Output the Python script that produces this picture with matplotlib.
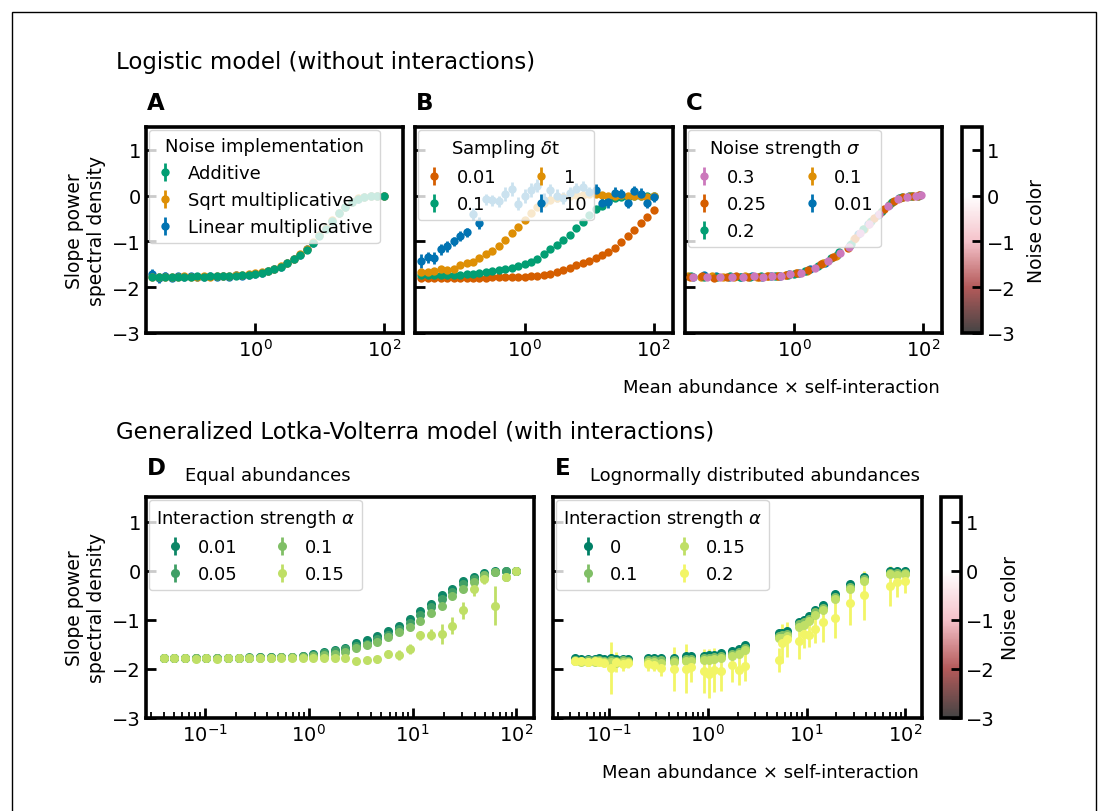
import numpy as np
import matplotlib
matplotlib.use('Agg')
import matplotlib.pyplot as plt
import matplotlib.ticker as mticker
from matplotlib.colors import LinearSegmentedColormap, Normalize
from matplotlib.cm import ScalarMappable
from matplotlib.patches import Rectangle

# ---------------- data ----------------
# log10 of x (mean abundance x self-interaction) for panels A-C
logx_abc = [-1.6, -1.5, -1.4, -1.3, -1.2, -1.1, -1.0, -0.9, -0.8, -0.7, -0.6, -0.5,
            -0.4, -0.3, -0.2, -0.1, 0.0, 0.1, 0.2, 0.3, 0.4, 0.5, 0.6, 0.7, 0.8, 0.9,
            1.0, 1.1, 1.2, 1.3, 1.4, 1.5, 1.6, 1.7, 1.8, 1.9, 2.0]

# A: noise implementation
a_additive = [-1.77, -1.78, -1.77, -1.78, -1.77, -1.77, -1.77, -1.76, -1.77, -1.76, -1.76, -1.76,
              -1.75, -1.75, -1.74, -1.73, -1.71, -1.68, -1.65, -1.61, -1.55, -1.48, -1.39, -1.29,
              -1.18, -1.03, -0.88, -0.72, -0.55, -0.38, -0.25, -0.14, -0.07, -0.03, -0.01, 0.0, 0.0]
a_sqrt = [-1.78, -1.77, -1.78, -1.77, -1.78, -1.76, -1.77, -1.77, -1.76, -1.77, -1.76, -1.75,
          -1.76, -1.74, -1.74, -1.72, -1.70, -1.67, -1.64, -1.60, -1.54, -1.47, -1.38, -1.28,
          -1.16, -1.02, -0.86, -0.70, -0.54, -0.37, -0.24, -0.13, -0.06, -0.02, 0.0, 0.0, 0.0]
a_linear = [-1.72, -1.80, -1.75, -1.79, -1.76, -1.78, -1.75, -1.77, -1.78, -1.76, -1.77, -1.75,
            -1.77, -1.74, -1.76, -1.74, -1.71, -1.68, -1.65, -1.60, -1.55, -1.48, -1.39, -1.29,
            -1.17, -1.03, -0.87, -0.71, -0.55, -0.38, -0.25, -0.14, -0.07, -0.03, -0.01, 0.0, 0.0]
a_linear_err = [0.12, 0.10, 0.08, 0.07, 0.06, 0.05, 0.05, 0.04, 0.04, 0.04, 0.03, 0.03,
                0.03, 0.03, 0.03, 0.03, 0.03, 0.02, 0.02, 0.02, 0.02, 0.02, 0.02, 0.02,
                0.02, 0.02, 0.02, 0.02, 0.02, 0.02, 0.02, 0.02, 0.02, 0.02, 0.02, 0.02, 0.02]

# B: sampling dt
b_001 = [-1.79, -1.79, -1.80, -1.79, -1.79, -1.79, -1.80, -1.79, -1.79, -1.79, -1.79, -1.78,
         -1.78, -1.78, -1.78, -1.77, -1.77, -1.76, -1.75, -1.73, -1.71, -1.67, -1.63, -1.58,
         -1.52, -1.47, -1.43, -1.37, -1.30, -1.23, -1.14, -1.02, -0.88, -0.74, -0.60, -0.47, -0.31]
b_01 = [-1.74, -1.74, -1.74, -1.74, -1.74, -1.73, -1.73, -1.72, -1.71, -1.69, -1.67, -1.65,
        -1.62, -1.60, -1.57, -1.54, -1.50, -1.45, -1.38, -1.27, -1.17, -1.08, -0.97, -0.85,
        -0.71, -0.57, -0.43, -0.30, -0.22, -0.12, -0.06, -0.03, -0.02, -0.01, 0.0, 0.0, 0.0]
b_1 = [-1.67, -1.66, -1.65, -1.60, -1.63, -1.60, -1.52, -1.47, -1.44, -1.36, -1.28, -1.21,
       -1.10, -0.96, -0.81, -0.68, -0.54, -0.38, -0.25, -0.16, -0.09, -0.05, -0.02, 0.0,
       0.01, 0.02, 0.03, 0.04, 0.02, 0.0, 0.0, 0.01, 0.0, -0.01, 0.0, -0.02, -0.01]
b_10 = [-1.43, -1.34, -1.37, -1.17, -1.10, -1.00, -0.88, -0.80, -0.40, -0.60, -0.08, -0.10,
        -0.12, 0.03, 0.14, -0.18, 0.00, 0.12, 0.22, -0.10, 0.12, 0.0, -0.05, 0.05,
        0.15, 0.19, 0.08, 0.13, -0.17, -0.14, 0.06, 0.03, -0.15, 0.10, 0.04, -0.15, -0.04]
b_10_err = [0.15, 0.12, 0.13, 0.12, 0.12, 0.10, 0.10, 0.10, 0.13, 0.13, 0.12, 0.12,
            0.12, 0.15, 0.15, 0.14, 0.15, 0.15, 0.15, 0.15, 0.14, 0.14, 0.13, 0.13,
            0.13, 0.13, 0.12, 0.12, 0.12, 0.12, 0.12, 0.12, 0.12, 0.12, 0.12, 0.12, 0.10]

# C: noise strength sigma (log10 x, slope)
c_03_logx = [-1.57, -1.36, -1.16, -0.97, -0.80, -0.63, -0.48, -0.34, -0.20, -0.06, 0.10, 0.33,
             0.53, 0.71, 0.85, 1.03, 1.16, 1.32, 1.46, 1.62, 1.76, 1.90, 1.97]
c_03 = [-1.78, -1.77, -1.78, -1.77, -1.77, -1.76, -1.77, -1.76, -1.75, -1.72, -1.68, -1.57,
        -1.42, -1.26, -1.13, -0.82, -0.62, -0.40, -0.23, -0.07, -0.02, 0.0, 0.01]
c_025_logx = [-1.62, -1.43, -1.25, -1.05, -0.90, -0.72, -0.55, -0.40, -0.25, -0.12, 0.05, 0.22,
              0.42, 0.60, 0.84, 0.95, 1.25, 1.40, 1.55, 1.70, 1.85, 1.95]
c_025 = [-1.77, -1.76, -1.79, -1.77, -1.76, -1.78, -1.77, -1.76, -1.75, -1.73, -1.69, -1.62,
         -1.50, -1.35, -1.14, -0.93, -0.48, -0.30, -0.12, -0.03, 0.0, 0.01]
c_02_logx = [-1.60, -1.40, -1.20, -1.00, -0.85, -0.68, -0.52, -0.30, -0.10, 0.00, 0.17, 0.37,
             0.58, 0.70, 0.88, 1.07, 1.20, 1.37, 1.52, 1.68, 1.83, 1.96]
c_02 = [-1.76, -1.77, -1.77, -1.76, -1.78, -1.77, -1.76, -1.76, -1.73, -1.71, -1.65, -1.54,
        -1.37, -1.22, -1.05, -0.73, -0.56, -0.33, -0.14, -0.04, 0.0, 0.01]
c_01_logx = [-1.65, -1.45, -1.28, -1.10, -0.93, -0.76, -0.58, -0.43, -0.27, -0.13, 0.03, 0.20,
             0.45, 0.65, 0.93, 1.08, 1.18, 1.35, 1.50, 1.65, 1.80, 1.93]
c_01 = [-1.76, -1.77, -1.76, -1.78, -1.77, -1.76, -1.77, -1.76, -1.75, -1.74, -1.70, -1.65,
        -1.48, -1.31, -0.95, -0.72, -0.58, -0.35, -0.17, -0.05, -0.01, 0.0]
c_001_logx = [-1.58, -1.40, -1.22, -1.02, -0.82, -0.66, -0.50, -0.36, -0.22, -0.08, 0.07, 0.25,
              0.48, 0.66, 0.87, 1.00, 1.15, 1.30, 1.48, 1.63, 1.78, 1.92]
c_001 = [-1.78, -1.74, -1.76, -1.77, -1.78, -1.76, -1.77, -1.76, -1.75, -1.72, -1.68, -1.61,
         -1.46, -1.30, -1.08, -0.83, -0.62, -0.42, -0.20, -0.06, -0.01, 0.0]

# D: equal abundances, interaction strength alpha
logx_d = [-1.398, -1.295, -1.192, -1.089, -0.986, -0.883, -0.780, -0.677, -0.574, -0.471,
          -0.368, -0.265, -0.162, -0.059, 0.044, 0.147, 0.250, 0.353, 0.456, 0.559, 0.662,
          0.765, 0.868, 0.971, 1.074, 1.177, 1.280, 1.383, 1.486, 1.589, 1.692, 1.795, 1.898, 2.0]
d_001 = [-1.77, -1.78, -1.78, -1.77, -1.78, -1.78, -1.77, -1.77, -1.77, -1.76, -1.76, -1.76,
         -1.75, -1.73, -1.69, -1.66, -1.61, -1.57, -1.48, -1.42, -1.33, -1.22, -1.12, -0.98,
         -0.83, -0.67, -0.50, -0.37, -0.22, -0.12, -0.05, -0.01, 0.0, 0.0]
d_005 = [-1.77, -1.78, -1.77, -1.77, -1.78, -1.77, -1.77, -1.77, -1.76, -1.76, -1.76, -1.75,
         -1.75, -1.74, -1.71, -1.68, -1.64, -1.60, -1.54, -1.49, -1.40, -1.30, -1.19, -1.06,
         -0.90, -0.74, -0.57, -0.43, -0.28, -0.17, -0.08, -0.03, -0.01, 0.0]
d_01 = [-1.77, -1.77, -1.78, -1.77, -1.77, -1.78, -1.77, -1.77, -1.77, -1.77, -1.77, -1.76,
        -1.76, -1.75, -1.73, -1.72, -1.69, -1.66, -1.58, -1.52, -1.45, -1.35, -1.25, -1.15,
        -1.02, -0.86, -0.71, -0.52, -0.38, -0.24, -0.08, -0.03, -0.12, 0.0]
d_015 = [-1.77, -1.78, -1.78, -1.79, -1.78, -1.79, -1.78, -1.78, -1.78, -1.78, -1.78, -1.78,
         -1.78, -1.77, -1.78, -1.78, -1.78, -1.78, -1.83, -1.81, -1.80, -1.70, -1.71, -1.59,
         -1.32, -1.30, -1.29, -1.12, -0.81, -0.37, -0.16, -0.71, -0.12, 0.0]
d_015_err = [0.03, 0.03, 0.03, 0.03, 0.03, 0.03, 0.03, 0.03, 0.03, 0.03, 0.03, 0.03,
             0.03, 0.03, 0.03, 0.03, 0.03, 0.03, 0.04, 0.05, 0.07, 0.08, 0.10, 0.10,
             0.10, 0.12, 0.20, 0.17, 0.18, 0.15, 0.12, 0.40, 0.07, 0.03]

# E: lognormally distributed abundances
logx_e = [-1.350, -1.283, -1.215, -1.148, -1.098, -1.047, -0.980, -0.929, -0.862, -0.811,
          -0.609, -0.542, -0.475, -0.340, -0.222, -0.172, -0.037, 0.013, 0.064, 0.131,
          0.249, 0.316, 0.374, 0.721, 0.754, 0.798, 0.923, 0.973, 1.024, 1.091, 1.168,
          1.293, 1.444, 1.586, 1.842, 1.916, 2.000]
e_0 = [-1.78, -1.80, -1.79, -1.79, -1.78, -1.79, -1.78, -1.79, -1.79, -1.80, -1.77, -1.77,
       -1.78, -1.77, -1.74, -1.74, -1.73, -1.72, -1.72, -1.68, -1.64, -1.60, -1.52, -1.27,
       -1.26, -1.23, -1.04, -1.00, -0.93, -0.80, -0.70, -0.48, -0.28, -0.12, -0.01, -0.01, -0.01]
e_01 = [-1.81, -1.83, -1.82, -1.82, -1.81, -1.83, -1.82, -1.83, -1.82, -1.83, -1.81, -1.82,
        -1.82, -1.82, -1.79, -1.80, -1.78, -1.77, -1.76, -1.73, -1.69, -1.65, -1.57, -1.33,
        -1.32, -1.28, -1.09, -1.05, -0.98, -0.85, -0.75, -0.53, -0.33, -0.17, -0.04, -0.05, -0.04]
e_015 = [-1.84, -1.86, -1.85, -1.85, -1.84, -1.86, -1.86, -1.87, -1.85, -1.86, -1.85, -1.86,
         -1.87, -1.86, -1.83, -1.84, -1.82, -1.82, -1.80, -1.77, -1.73, -1.69, -1.62, -1.38,
         -1.37, -1.33, -1.14, -1.10, -1.03, -0.90, -0.81, -0.58, -0.38, -0.22, -0.07, -0.08, -0.07]
e_02 = [-1.83, -1.84, -1.85, -1.84, -1.86, -1.88, -1.98, -1.86, -1.90, -1.88, -1.90, -1.93,
        -1.99, -2.00, -2.00, -1.97, -2.05, -2.10, -2.02, -2.05, -1.92, -2.02, -1.95, -1.82,
        -1.48, -1.40, -1.44, -1.28, -1.30, -1.18, -1.05, -0.97, -0.65, -0.50, -0.31, -0.23, -0.21]
e_02_err = [0.05, 0.05, 0.06, 0.05, 0.06, 0.08, 0.53, 0.20, 0.15, 0.10, 0.15, 0.12,
            0.15, 0.45, 0.50, 0.30, 0.45, 0.50, 0.45, 0.40, 0.35, 0.30, 0.30, 0.25,
            0.40, 0.35, 0.35, 0.30, 0.25, 0.30, 0.40, 0.40, 0.45, 0.50, 0.40, 0.30, 0.25]

# colours
BLUE, ORANGE, GREEN, RED, PINK = '#0173b2', '#de8f05', '#029e73', '#d55e00', '#cc78bc'
D_COLS = ['#0d8666', '#409f66', '#80bf66', '#bfdf66']
E_COLS = ['#008066', '#80bf66', '#bfdf66', '#f2f566']

# ---------------- figure ----------------
W, H = 1099, 812
fig = plt.figure(figsize=(W / 100, H / 100), dpi=100)


def box(l, t, r, b):
    return [l / W, 1 - b / H, (r - l) / W, (b - t) / H]


def pts(ax, logx, y, err, color, label, z, ms=6):
    ax.errorbar(10 ** np.array(logx), y, yerr=err, fmt='o', ms=ms, color=color,
                ecolor=color, elinewidth=2, capsize=0, mew=0, label=label, zorder=z)


def style(ax, xlim, ylabels=True):
    ax.set_xscale('log')
    ax.set_xlim(xlim)
    ax.set_ylim(-3, 1.5)
    ax.set_yticks([-3, -2, -1, 0, 1])
    ax.tick_params(which='major', direction='in', length=7, width=2, labelsize=14)
    ax.tick_params(which='minor', direction='in', length=4, width=1.3)
    if not ylabels:
        ax.set_yticklabels([])
    for s in ax.spines.values():
        s.set_linewidth(2.6)


def leg(ax, title, ncol):
    ax.legend(title=title, loc='upper left', ncol=ncol, fontsize=13, title_fontsize=13,
              labelspacing=0.5, handlelength=1.0, handletextpad=0.75, columnspacing=2.0,
              borderaxespad=0.15)


ax_a = fig.add_axes(box(146, 128, 403, 334))
ax_b = fig.add_axes(box(415, 128, 673, 334))
ax_c = fig.add_axes(box(685, 128, 942, 334))
ax_d = fig.add_axes(box(146, 498, 534, 719))
ax_e = fig.add_axes(box(553, 498, 922, 719))

# A
pts(ax_a, logx_abc, a_additive, 0.02, GREEN, 'Additive', 3)
pts(ax_a, logx_abc, a_sqrt, 0.02, ORANGE, 'Sqrt multiplicative', 2.5)
pts(ax_a, logx_abc, a_linear, a_linear_err, BLUE, 'Linear multiplicative', 2)
leg(ax_a, 'Noise implementation', 1)

# B
pts(ax_b, logx_abc, b_001, 0.02, RED, '0.01', 2)
pts(ax_b, logx_abc, b_01, 0.02, GREEN, '0.1', 2)
pts(ax_b, logx_abc, b_1, 0.04, ORANGE, '1', 2)
pts(ax_b, logx_abc, b_10, b_10_err, BLUE, '10', 2)
leg(ax_b, r'Sampling $\delta$t', 2)

# C
pts(ax_c, c_03_logx, c_03, 0.02, PINK, '0.3', 3)
pts(ax_c, c_025_logx, c_025, 0.02, RED, '0.25', 2.8)
pts(ax_c, c_02_logx, c_02, 0.02, GREEN, '0.2', 2.6)
pts(ax_c, c_01_logx, c_01, 0.02, ORANGE, '0.1', 2.4)
pts(ax_c, c_001_logx, c_001, 0.05, BLUE, '0.01', 2.2)
leg(ax_c, r'Noise strength $\sigma$', 2)

for ax in (ax_a, ax_b, ax_c):
    style(ax, (0.02, 200), ylabels=(ax is ax_a))
    ax.xaxis.set_major_locator(mticker.FixedLocator([1, 100]))
    ax.xaxis.set_minor_locator(mticker.NullLocator())

# D
pts(ax_d, logx_d, d_001, 0.02, D_COLS[0], '0.01', 2, ms=6.5)
pts(ax_d, logx_d, d_005, 0.02, D_COLS[1], '0.05', 2, ms=6.5)
pts(ax_d, logx_d, d_01, 0.03, D_COLS[2], '0.1', 2, ms=6.5)
pts(ax_d, logx_d, d_015, d_015_err, D_COLS[3], '0.15', 2, ms=6.5)
leg(ax_d, r'Interaction strength $\alpha$', 2)
style(ax_d, (0.027, 148))

# E
pts(ax_e, logx_e, e_0, 0.03, E_COLS[0], '0', 2, ms=6.5)
pts(ax_e, logx_e, e_01, 0.04, E_COLS[1], '0.1', 2, ms=6.5)
pts(ax_e, logx_e, e_015, 0.05, E_COLS[2], '0.15', 2, ms=6.5)
pts(ax_e, logx_e, e_02, e_02_err, E_COLS[3], '0.2', 2, ms=6.5)
leg(ax_e, r'Interaction strength $\alpha$', 2)
style(ax_e, (0.027, 148), ylabels=False)

# colour bars
noise_cmap = LinearSegmentedColormap.from_list(
    'noise', [(0.0, '#444444'), (0.222, '#b45a5a'), (0.444, '#f5c2ca'),
              (0.667, '#ffffff'), (1.0, '#ffffff')])
for rect, cx, cy in ((box(962, 128, 982, 334), 1036, 231),
                     (box(941, 498, 961, 719), 1011, 608)):
    cax = fig.add_axes(rect)
    cb = fig.colorbar(ScalarMappable(Normalize(-3, 1.5), noise_cmap), cax=cax)
    cb.set_ticks([-3, -2, -1, 0, 1])
    cax.tick_params(direction='in', length=7, width=2, labelsize=14)
    cb.outline.set_linewidth(2.6)
    fig.text(cx / W, 1 - cy / H, 'Noise color', rotation=90, ha='center', va='center',
             fontsize=13.5)

# texts
fig.text(116 / W, 1 - 62 / H, 'Logistic model (without interactions)', fontsize=16.5,
         va='center')
fig.text(116 / W, 1 - 432 / H, 'Generalized Lotka-Volterra model (with interactions)',
         fontsize=16.5, va='center')
for letter, x, y in (('A', 147, 103), ('B', 416, 103), ('C', 686, 103),
                     ('D', 147, 469), ('E', 555, 469)):
    fig.text(x / W, 1 - y / H, letter, fontsize=16.5, weight='bold', va='center')
fig.text(185 / W, 1 - 476 / H, 'Equal abundances', fontsize=13, va='center')
fig.text(590 / W, 1 - 476 / H, 'Lognormally distributed abundances', fontsize=13, va='center')
fig.text(940 / W, 1 - 388 / H, 'Mean abundance × self-interaction', fontsize=13,
         ha='right', va='center')
fig.text(919 / W, 1 - 773 / H, 'Mean abundance × self-interaction', fontsize=13,
         ha='right', va='center')
for yc in (231, 608):
    fig.text(86 / W, 1 - yc / H, 'Slope power\nspectral density', rotation=90,
             ha='center', va='center', fontsize=13.5, multialignment='center')

# outer frame
fig.patches.append(Rectangle((12 / W, -0.05), (1096 - 12) / W, 1.05 - 13 / H,
                             transform=fig.transFigure, fill=False, lw=1, ec='black'))

fig.savefig('out.png', dpi=100)
